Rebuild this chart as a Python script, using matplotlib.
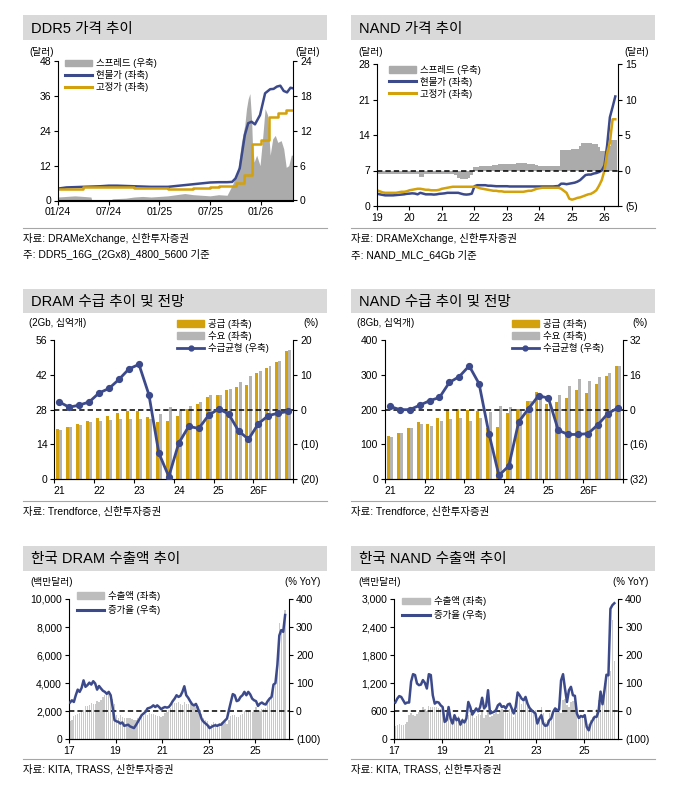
import numpy as np
import matplotlib.pyplot as plt
from matplotlib.patches import Rectangle, Patch
from matplotlib.lines import Line2D
from matplotlib.ticker import FuncFormatter

plt.rcParams['font.family'] = ['Liberation Sans', 'Noto Sans CJK KR']

W, H = 678, 791
NAVY = '#3C4A8C'
GOLD = '#D3A10B'
GRAY = '#ABABAB'
BAR_GRAY = '#B5B5B5'
LIGHT = '#C9C9C9'

# ---- DDR5 price (months since Jan 2024) ----
ddr5_spot_m = [0, 1, 2, 3, 4, 5, 6, 7, 8, 9, 10, 11, 12, 13, 14, 15, 16, 17, 18, 19, 20,
               20.6, 21.0, 21.5, 22.1, 22.5, 22.9, 23.3, 23.9, 24.5, 25.1, 25.5, 25.9,
               26.3, 26.7, 27.1, 27.5, 27.8]
ddr5_spot = [4.1, 4.5, 4.6, 4.7, 4.8, 4.9, 5.1, 5.1, 5.0, 4.9, 4.8, 4.7, 4.7, 4.7, 5.0, 5.3,
             5.6, 5.9, 6.2, 6.3, 6.3, 6.4, 7.6, 11.1, 22.5, 26.6, 27.1, 26.2, 29.4, 36.9,
             38.3, 38.4, 39.2, 39.5, 37.7, 37.2, 38.8, 38.6]
ddr5_fixed_m = [0, 3, 9, 13, 15, 16, 18, 19, 21, 22, 23, 24, 25, 26, 27, 27.8]
ddr5_fixed = [3.8, 4.6, 4.2, 3.8, 4.0, 4.4, 4.8, 5.0, 6.1, 8.8, 19.3, 20.8, 28.8, 30.0, 31.0, 31.0]
ddr5_spread_m = [0, 1, 2, 3, 3.9, 4.0, 6.0, 6.5, 8, 9, 10, 11, 12, 13, 14, 15, 16, 17, 18, 19, 20,
                 20.6, 21.0, 21.3, 21.7, 22.1, 22.3, 22.5, 22.7, 22.9, 23.0, 23.2, 23.5, 23.9,
                 24.2, 24.5, 24.8, 25.1, 25.4, 25.7, 26.0, 26.4, 26.7, 27.0, 27.3, 27.6, 27.8]
ddr5_spread = [0.6, 0.7, 0.8, 0.7, 0.6, 0.0, 0.0, 0.3, 0.4, 0.6, 0.7, 0.6, 0.7, 0.8, 1.0, 1.2,
               1.0, 0.9, 0.8, 1.0, 0.9, 2.6, 4.0, 5.5, 10.0, 13.0, 15.8, 17.5, 18.4, 14.0, 9.8,
               6.6, 7.8, 6.0, 10.6, 15.8, 14.7, 7.8, 10.6, 11.2, 10.0, 10.3, 8.9, 5.7, 6.0, 7.8, 7.8]
ddr5_xlabels = ['01/24', '07/24', '01/25', '07/25', '01/26']

# ---- NAND price (monthly from Jan 2019) ----
nand_spot = [2.44, 2.3, 2.2, 2.1, 2.1, 2.1, 2.1, 2.15, 2.2, 2.25, 2.3, 2.4,
             2.44, 2.5, 2.45, 2.3, 2.6, 2.45, 2.3, 2.3, 2.3, 2.25, 2.3, 2.4,
             2.44, 2.5, 2.6, 2.6, 2.6, 2.6, 2.6, 2.44, 2.3, 2.25, 2.3, 2.44,
             3.9, 4.1, 4.1, 4.1, 4.1, 4.0, 4.0, 3.95, 3.9, 3.9, 3.9, 3.9,
             3.9, 3.85, 3.85, 3.85, 3.85, 3.85, 3.85, 3.85, 3.85, 3.85, 3.85, 3.85,
             3.85, 3.85, 3.85, 3.85, 3.85, 3.85, 3.9, 3.95, 4.4, 4.4, 4.3, 4.4,
             4.5, 4.6, 4.8, 5.1, 5.6, 6.1, 6.2, 6.2, 6.4, 6.5, 6.7, 7.0,
             8.0, 12.0, 17.5, 19.5, 21.6]
nand_fixed = [3.1, 2.9, 2.7, 2.6, 2.6, 2.6, 2.6, 2.6, 2.7, 2.8, 2.8, 2.9,
              3.1, 3.2, 3.3, 3.4, 3.4, 3.3, 3.2, 3.2, 3.1, 3.1, 3.1, 3.2,
              3.4, 3.5, 3.6, 3.7, 3.8, 3.8, 3.8, 3.8, 3.8, 3.8, 3.8, 3.8,
              3.8, 3.7, 3.5, 3.4, 3.3, 3.2, 3.1, 3.0, 3.0, 2.9, 2.9, 2.8,
              2.8, 2.8, 2.8, 2.8, 2.8, 2.8, 2.8, 2.9, 3.0, 3.0, 3.2, 3.4,
              3.5, 3.6, 3.6, 3.6, 3.6, 3.6, 3.6, 3.6, 3.4, 3.0, 2.6, 1.45,
              1.25, 1.4, 1.6, 1.7, 1.9, 2.1, 2.3, 2.4, 2.7, 3.1, 4.0, 5.1,
              7.0, 10.5, 12.5, 17.1, 17.1]
nand_spread = [-0.5] * 12 + \
    [-0.5, -0.5, -0.5, -0.5, -0.85, -0.85, -0.5, -0.5, -0.5, -0.5, -0.5, -0.5,
     -0.5, -0.5, -0.5, -0.5, -0.5, -0.6, -1.0, -1.2, -1.2, -1.15, -1.1, -0.7,
     0.47, 0.5, 0.6, 0.65, 0.65, 0.7, 0.7, 0.75, 0.8, 0.85, 0.9, 0.95,
     0.95, 0.95, 0.95, 0.95, 1.0, 1.0, 1.0, 1.0, 0.95, 0.95, 0.9, 0.8,
     0.6, 0.57, 0.57, 0.57, 0.57, 0.57, 0.57, 0.57, 2.9, 2.9, 2.9, 2.9,
     3.0, 3.0, 3.0, 3.5, 3.9, 3.9, 3.9, 3.9, 3.8, 3.7, 3.3, 2.7,
     2.7, 2.7, 3.5, 4.3, 4.3]
nand_xlabels = ['19', '20', '21', '22', '23', '24', '25', '26']

# ---- supply / demand (quarterly 21Q1-26Q4) ----
quarter_labels = ['21', '22', '23', '24', '25', '26F']
dram_supply = [20.1, 21.2, 22.1, 23.5, 24.8, 25.6, 26.5, 27.5, 27.5, 25.2, 23.1, 23.5,
               25.6, 28.2, 30.2, 33.2, 33.9, 35.7, 37.0, 37.9, 42.6, 44.6, 47.1, 51.6]
dram_demand = [19.7, 21.2, 21.7, 23.1, 23.5, 23.9, 24.3, 24.3, 24.3, 24.3, 26.3, 29.1,
               28.3, 29.5, 31.0, 33.8, 33.9, 36.2, 39.1, 41.6, 43.6, 45.6, 47.7, 52.0]
dram_balance = [2.2, 0.7, 1.3, 2.2, 4.8, 6.1, 8.7, 11.7, 13.0, 4.3, -12.5, -19.2,
                -9.6, -4.8, -5.4, -1.6, 0.2, -1.2, -6.1, -8.5, -4.0, -1.7, -1.0, -0.5]
nand_supply = [125, 134, 146, 164, 160, 177, 199, 202, 199, 197, 146, 149,
               190, 201, 225, 252, 215, 222, 234, 256, 249, 275, 297, 324]
nand_demand = [121, 134, 146, 160, 153, 167, 173, 177, 167, 177, 192, 210,
               207, 197, 225, 234, 233, 242, 268, 288, 282, 294, 304, 324]
nand_balance = [1.5, 0.0, 0.0, 2.0, 4.1, 5.6, 12.5, 15.2, 20.1, 11.9, -11.1, -30.2,
                -25.9, -5.6, 0.5, 6.4, 5.3, -9.5, -11.4, -11.4, -11.0, -6.9, -1.8, 0.8]

# ---- Korea exports (monthly Jan 2017 - Apr 2026) ----
export_xlabels = ['17', '19', '21', '23', '25']
dram_export = [1300, 1400, 1650, 1700, 1800, 1900, 2000, 2100, 2350, 2400, 2450, 2600,
               2550, 2500, 2750, 2650, 2800, 3050, 3150, 3250, 3300, 3300, 2900, 2550,
               1750, 1550, 1750, 1600, 1500, 1550, 1550, 1500, 1450, 1350, 1400, 1550,
               1550, 1700, 1650, 1800, 1700, 1850, 1800, 1800, 1750, 1650, 1650, 1600,
               1650, 1850, 1950, 2100, 2200, 2500, 2600, 2600, 2650, 2500, 2450, 2650,
               2550, 2500, 2600, 2500, 2400, 2300, 2350, 2100, 1800, 1500, 1350, 1300,
               1050, 1100, 1200, 1150, 1100, 1150, 1200, 1250, 1200, 1100, 1350, 1650,
               1700, 1700, 1600, 1600, 1700, 1800, 2000, 1950, 2000, 1950, 1950, 2100,
               2300, 1950, 2000, 2150, 2150, 2250, 2650, 2850, 3000, 3800, 3900, 5550,
               8300, 7600, 7900, 9200]
dram_yoy = [31, 39, 33, 57, 77, 69, 83, 110, 87, 93, 102, 95,
            107, 99, 77, 90, 81, 73, 69, 62, 69, 57, 15, -32,
            -36, -38, -44, -40, -52, -50, -48, -54, -57, -60, -50, -38,
            -26, -14, -8, -2, 10, 12, 15, 21, 15, 21, 15, 7,
            12, 15, 13, 15, 24, 36, 45, 57, 51, 55, 69, 89,
            57, 48, 36, 25, 21, 26, 10, -8, -29, -38, -44, -50,
            -60, -56, -52, -50, -52, -48, -48, -40, -33, -26, 4, 33,
            61, 57, 36, 39, 51, 57, 69, 57, 69, 60, 45, 39,
            36, 19, 27, 31, 26, 24, 36, 45, 51, 95, 100, 165,
            270, 289, 283, 343]
nand_export = [290, 310, 330, 300, 310, 330, 380, 520, 560, 520, 500, 540,
               580, 600, 700, 640, 600, 720, 700, 700, 690, 700, 660, 640,
               560, 430, 480, 600, 450, 420, 520, 470, 500, 400, 450, 420,
               480, 520, 540, 550, 460, 500, 540, 530, 620, 460, 520, 600,
               470, 500, 540, 580, 540, 600, 640, 620, 660, 560, 640, 680,
               480, 580, 850, 880, 760, 800, 880, 760, 700, 580, 620, 620,
               330, 420, 700, 560, 380, 420, 560, 540, 640, 580, 620, 660,
               560, 850, 870, 740, 700, 800, 820, 820, 600, 440, 520, 520,
               480, 400, 330, 410, 470, 500, 640, 830, 1000, 750, 1200, 1400,
               1420, 1450, 2550, 1680]
nand_yoy = [31, 45, 54, 51, 39, 27, 31, 31, 105, 132, 129, 99,
            93, 95, 111, 101, 81, 132, 129, 57, 27, 33, 31, 21,
            15, -38, -32, 15, -26, -44, -14, -32, -26, -48, -32, -40,
            -26, 33, 15, -12, -2, 10, 0, 15, 48, 10, 19, 75,
            -8, -5, -2, 4, 21, 27, 15, 18, 10, 24, 27, 10,
            -8, 15, 67, 57, 45, 39, 51, 27, 12, 4, -2, -8,
            -44, -26, -14, -44, -52, -50, -32, -26, -2, 10, 4, 6,
            110, 132, 80, 33, 75, 87, 57, 55, -8, -24, -17, -20,
            -14, -56, -68, -44, -32, -20, -20, 0, 70, 25, 75, 130,
            128, 365, 378, 385]


def px_axes(fig, x0, y0, x1, y1):
    return fig.add_axes([x0 / W, 1 - y1 / H, (x1 - x0) / W, (y1 - y0) / H])


def ftext(fig, x, y, s, **kw):
    fig.text(x / W, 1 - y / H, s, **kw)


def frame(fig, x0, x1, ty0, ty1, title, sep_y, notes):
    fig.add_artist(Rectangle((x0 / W, 1 - ty1 / H), (x1 - x0) / W, (ty1 - ty0) / H,
                             transform=fig.transFigure, color='#D9D9D9', lw=0))
    ftext(fig, x0 + 8, (ty0 + ty1) / 2 + 1, title, fontsize=10.5, va='center')
    fig.add_artist(Line2D([x0 / W, x1 / W], [1 - sep_y / H] * 2,
                          transform=fig.transFigure, color='#A6A6A6', lw=0.8))
    for i, s in enumerate(notes):
        ftext(fig, x0, sep_y + 10 + i * 17, s, fontsize=7.5, va='center')


def paren(v, pos):
    return f'({abs(v):g})' if v < 0 else f'{v:g}'


def style(ax, ax2):
    for a in (ax, ax2):
        a.spines['top'].set_visible(False)
        a.tick_params(direction='out', length=3, width=0.8, labelsize=7.5, pad=2)
    ax.spines['right'].set_visible(False)
    ax2.spines['left'].set_visible(False)
    ax2.yaxis.set_major_formatter(FuncFormatter(paren))


def legend(ax, handles, labels, x, y, spacing):
    ax.legend(handles, labels, loc='upper left', bbox_to_anchor=(x, y), frameon=False,
              fontsize=6.8, handlelength=2.9, handletextpad=0.4, borderpad=0,
              borderaxespad=0, labelspacing=spacing)


def dashed(ax):
    ax.axhline(0, color='black', ls=(0, (3.5, 2)), lw=1.1, zorder=1.5)


fig = plt.figure(figsize=(W / 100, H / 100), dpi=100)

# Panel 1: DDR5 price
frame(fig, 23, 327, 15, 40, 'DDR5 가격 추이', 228,
      ['자료: DRAMeXchange, 신한투자증권', '주: DDR5_16G_(2Gx8)_4800_5600 기준'])
ax = px_axes(fig, 58, 61, 293, 200.5)
ax2 = ax.twinx()
ax2.fill_between(ddr5_spread_m, 0, ddr5_spread, color=GRAY, lw=0)
ax.plot(ddr5_spot_m, ddr5_spot, color=NAVY, lw=1.8)
ax.step(ddr5_fixed_m, ddr5_fixed, color=GOLD, lw=1.8, where='post')
ax.set_zorder(ax2.get_zorder() + 1)
ax.patch.set_visible(False)
ax.set_xlim(0, 27.8)
ax.set_ylim(0, 48)
ax.set_yticks(range(0, 49, 12))
ax2.set_ylim(0, 24)
ax2.set_yticks(range(0, 25, 6))
ax.set_xticks([0, 6, 12, 18, 24])
ax.set_xticklabels(ddr5_xlabels)
style(ax, ax2)
legend(ax, [Patch(color=GRAY), Line2D([], [], color=NAVY, lw=2.2), Line2D([], [], color=GOLD, lw=2.2)],
       ['스프레드 (우축)', '현물가 (좌축)', '고정가 (좌축)'], 0.03, 1.02, 0.2)
ftext(fig, 42, 52, '(달러)', fontsize=7, ha='center', va='center')
ftext(fig, 308, 52, '(달러)', fontsize=7, ha='center', va='center')

# Panel 2: NAND price
frame(fig, 351, 655, 15, 40, 'NAND 가격 추이', 228,
      ['자료: DRAMeXchange, 신한투자증권', '주: NAND_MLC_64Gb 기준'])
ax = px_axes(fig, 377, 64, 618, 206)
ax2 = ax.twinx()
nm = np.arange(len(nand_spot))
ax2.bar(nm, nand_spread, width=1.0, color=GRAY, lw=0)
ax.plot(nm, nand_spot, color=NAVY, lw=1.8)
ax.plot(nm, nand_fixed, color=GOLD, lw=1.8)
ax.axhline(7, color='black', ls=(0, (3.5, 2)), lw=1.1, zorder=3)
ax.set_zorder(ax2.get_zorder() + 1)
ax.patch.set_visible(False)
ax.set_xlim(0, 89)
ax.set_ylim(0, 28)
ax.set_yticks(range(0, 29, 7))
ax2.set_ylim(-5, 15)
ax2.set_yticks(range(-5, 16, 5))
ax.set_xticks(range(0, 85, 12))
ax.set_xticklabels(nand_xlabels)
style(ax, ax2)
legend(ax, [Patch(color=GRAY), Line2D([], [], color=NAVY, lw=2.2), Line2D([], [], color=GOLD, lw=2.2)],
       ['스프레드 (우축)', '현물가 (좌축)', '고정가 (좌축)'], 0.05, 0.995, 0.2)
ftext(fig, 371, 52, '(달러)', fontsize=7, ha='center', va='center')
ftext(fig, 637, 52, '(달러)', fontsize=7, ha='center', va='center')


def supply_demand(x0, x1, title, unit, unit_x, pct_x, supply, demand, balance,
                  ylim, ystep, rlim, rstep, lx):
    frame(fig, x0 - 31 if x0 < 100 else 351, 327 if x0 < 100 else 655, 289, 313,
          title, 501, ['자료: Trendforce, 신한투자증권'])
    ax = px_axes(fig, x0, 340, x1, 479.3)
    ax2 = ax.twinx()
    q = np.arange(len(supply)) + 0.5
    ax.bar(q - 0.16, supply, width=0.3, color=GOLD, lw=0)
    ax.bar(q + 0.16, demand, width=0.3, color=BAR_GRAY, lw=0)
    dashed(ax2)
    ax2.plot(q, balance, color=NAVY, lw=2, marker='o', ms=4.2, zorder=3)
    ax.set_xlim(0, 24)
    ax.set_ylim(0, ylim)
    ax.set_yticks(np.arange(0, ylim + 1, ystep))
    ax2.set_ylim(-rlim, rlim)
    ax2.set_yticks(np.arange(-rlim, rlim + 1, rstep))
    ax.set_xticks(range(0, 25, 4))
    ax.set_xticklabels([])
    ax.set_xticks(np.arange(0.5, 24, 4), minor=True)
    ax.set_xticklabels(quarter_labels, minor=True)
    style(ax, ax2)
    ax.tick_params(axis='x', which='minor', length=0, labelsize=7.5, pad=5)
    legend(ax2, [Patch(color=GOLD), Patch(color=BAR_GRAY),
                 Line2D([], [], color=NAVY, lw=2, marker='o', ms=3.5)],
           ['공급 (좌축)', '수요 (좌축)', '수급균형 (우축)'], lx, 1.15, 0.2)
    ftext(fig, unit_x, 323.5, unit, fontsize=7, va='center')
    ftext(fig, pct_x, 323.5, '(%)', fontsize=7, ha='center', va='center')


supply_demand(54.3, 293.3, 'DRAM 수급 추이 및 전망', '(2Gb, 십억개)', 29, 311,
              dram_supply, dram_demand, dram_balance, 56, 14, 20, 10, 0.513)
supply_demand(385, 622.7, 'NAND 수급 추이 및 전망', '(8Gb, 십억개)', 357, 640,
              nand_supply, nand_demand, nand_balance, 400, 100, 32, 16, 0.533)


def exports(x0, x1, fx0, fx1, title, values, yoy, ymax, ystep, unit_x, yoy_x, ly):
    frame(fig, fx0, fx1, 546, 570.7, title, 759, ['자료: KITA, TRASS, 신한투자증권'])
    ax = px_axes(fig, x0, 599, x1, 739.3)
    ax2 = ax.twinx()
    m = np.arange(len(values)) + 0.5
    ax.bar(m, values, width=0.65, color=LIGHT, lw=0)
    dashed(ax2)
    ax2.plot(m, yoy, color=NAVY, lw=1.8, zorder=3)
    span = (x1 - x0) / ((x1 - x0) / 113.5)
    ax.set_xlim(0, span)
    ax.set_ylim(0, ymax)
    ax.set_yticks(np.arange(0, ymax + 1, ystep))
    ax.yaxis.set_major_formatter(FuncFormatter(lambda v, p: f'{v:,.0f}'))
    ax2.set_ylim(-100, 400)
    ax2.set_yticks(range(-100, 401, 100))
    ax.set_xticks(range(0, 97, 24))
    ax.set_xticklabels(export_xlabels)
    style(ax, ax2)
    legend(ax2, [Patch(color='#BDBDBD'), Line2D([], [], color=NAVY, lw=2.2)],
           ['수출액 (좌축)', '증가율 (우축)'], 0.036, ly, 0.45)
    ftext(fig, unit_x, 582, '(백만달러)', fontsize=7, va='center')
    ftext(fig, yoy_x, 582, '(% YoY)', fontsize=7, ha='center', va='center')


exports(69, 289, 23, 327, '한국 DRAM 수출액 추이', dram_export, dram_yoy, 10000, 2000, 30, 303, 1.06)
exports(394.3, 618.3, 351, 655, '한국 NAND 수출액 추이', nand_export, nand_yoy, 3000, 600, 358, 631, 1.02)

fig.savefig('out.png', dpi=100)
